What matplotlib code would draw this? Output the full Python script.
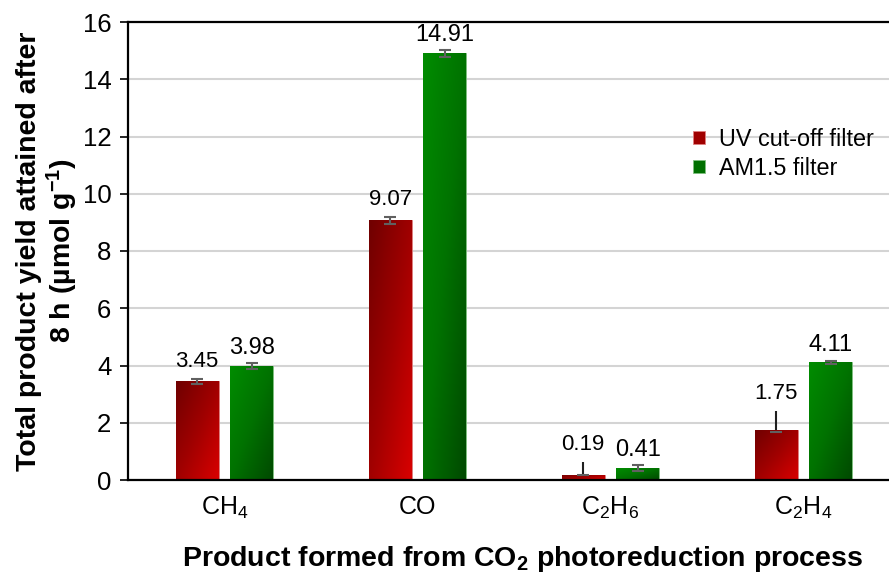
import numpy as np
import matplotlib
matplotlib.use("Agg")
import matplotlib.pyplot as plt
from matplotlib.colors import LinearSegmentedColormap

plt.rcParams['font.family'] = ['Liberation Sans', 'DejaVu Sans']
plt.rcParams['mathtext.default'] = 'regular'

# data
products = ['CH$_4$', 'CO', 'C$_2$H$_6$', 'C$_2$H$_4$']
uv_vals = [3.45, 9.07, 0.19, 1.75]
am_vals = [3.98, 14.91, 0.41, 4.11]
uv_err_lo = [0.09, 0.12, 0.0, 0.07]
uv_err_hi = [0.09, 0.12, 0.45, 0.65]
uv_top_cap = [True, True, False, False]
am_err = [0.09, 0.12, 0.11, 0.06]
yticks = [0, 2, 4, 6, 8, 10, 12, 14, 16]

red_cmap = LinearSegmentedColormap.from_list('r', ['#700000', '#a00000', '#d80000'])
green_cmap = LinearSegmentedColormap.from_list('g', ['#008c00', '#007200', '#004a00'])

fig = plt.figure(figsize=(8.89, 5.73), dpi=100)
ax = fig.add_axes([128/889, 93/573, 772/889, 458/573])

x = np.arange(len(products))
w = 0.222
off = 0.142

def grad_bars(bars, cmap):
    # diagonal gradient inside each bar: top-left -> bottom-right
    u = np.linspace(0, 1, 40)
    v = np.linspace(0, 1, 40)
    U, V = np.meshgrid(u, v)
    g = (U + V) / 2
    for b in bars:
        x0, y0 = b.get_x(), b.get_y()
        im = ax.imshow(g, cmap=cmap, extent=(x0, x0 + b.get_width(), y0, y0 + b.get_height()),
                       origin='upper', aspect='auto', zorder=2, vmin=0, vmax=1)
        im.set_clip_path(b)

b1 = ax.bar(x - off, uv_vals, w, color='#a00000', edgecolor='#e08080', lw=0.6,
            label='UV cut-off filter', zorder=2)
b2 = ax.bar(x + off, am_vals, w, color='#007000', edgecolor='#80c080', lw=0.6,
            label='AM1.5 filter', zorder=2)
grad_bars(b1, red_cmap)
grad_bars(b2, green_cmap)

uv = np.array(uv_vals)
am = np.array(am_vals)
lo = np.array(uv_err_lo)
hi = np.array(uv_err_hi)
caps = np.array(uv_top_cap)

# error bars
ax.errorbar(x + off, am, yerr=am_err, fmt='none', ecolor='#606060', elinewidth=1.5,
            capsize=4.5, capthick=1.5, zorder=4)
ax.vlines((x - off)[caps], (uv - lo)[caps], (uv + hi)[caps], color='#606060', lw=1.5, zorder=4)
ax.vlines((x - off)[~caps], uv[~caps], (uv + hi)[~caps], color='#202020', lw=1.5, zorder=4)
ax.plot(x - off, uv - lo, ls='none', marker='_', ms=9, mew=1.5, color='#606060', zorder=4)
ax.plot((x - off)[caps], (uv + hi)[caps], ls='none', marker='_', ms=9, mew=1.5,
        color='#606060', zorder=4)

# value labels
for xi, v, top in zip(x - off, uv_vals, uv + hi):
    ax.annotate('%.2f' % v, (xi, top), xytext=(0, 5), textcoords='offset points',
                ha='center', va='bottom', fontsize=16)
for xi, v, e in zip(x + off, am_vals, am_err):
    ax.annotate('%.2f' % v, (xi, v + e), xytext=(0, 3), textcoords='offset points',
                ha='center', va='bottom', fontsize=17)

ax.set_xlim(-0.5, 3.5)
ax.set_ylim(0, 16)
ax.set_yticks(yticks)
ax.set_xticks(x)
ax.set_xticklabels(products, fontsize=18)
ax.tick_params(axis='y', labelsize=18.5, length=6, width=1.2, direction='out', pad=6)
ax.tick_params(axis='x', length=0, pad=11)
ax.yaxis.grid(True, color='#d4d4d4', lw=1.5)
ax.set_axisbelow(True)
for s in ax.spines.values():
    s.set_color('black')
    s.set_linewidth(1.6)

ax.set_ylabel('Total product yield attained after\n8 h (µmol g$^{-1}$)', fontsize=20.5,
              fontweight='bold', linespacing=1.12)
ax.yaxis.set_label_coords(-0.062, 0.5)
ax.set_xlabel('Product formed from CO$_2$ photoreduction process', fontsize=20.5,
              fontweight='bold')
ax.xaxis.set_label_coords(0.511, -0.14)

fig.legend(handles=[b1, b2], loc='center left', bbox_to_anchor=(672/889, 1 - 154/573),
           frameon=False, fontsize=16.8, handlelength=0.5, handleheight=0.5,
           handletextpad=0.6, labelspacing=0.25)

fig.savefig('out.png', dpi=100)
